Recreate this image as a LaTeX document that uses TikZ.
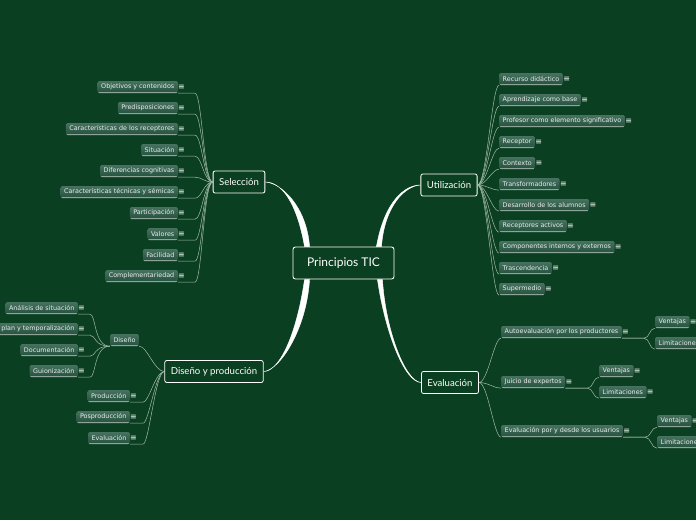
\documentclass[tikz,border=0pt]{standalone}
\usepackage{fontspec}
\setmainfont{DejaVu Sans}
\newfontfamily\titlefont{Lato}
\usetikzlibrary{shapes,positioning}
\definecolor{bgcol}{HTML}{0B3F21}
\definecolor{leaftop}{HTML}{46725F}
\definecolor{leafbot}{HTML}{24503E}
\definecolor{leafline}{HTML}{8CA597}
\definecolor{twigcol}{HTML}{A3BAAA}

\begin{document}
\begin{tikzpicture}[x=1pt, y=-1pt]
    \tikzstyle{root}   = [draw=white, line width=0.9pt, fill=bgcol, rounded corners=2.5pt, text=white, font=\titlefont\fontsize{12}{14}\selectfont, minimum width=101pt, minimum height=32pt]
    \tikzstyle{topic}  = [draw=white, line width=0.8pt, fill=bgcol, rounded corners=2pt, text=white, font=\titlefont\fontsize{9.6}{11}\selectfont, minimum height=22pt, inner xsep=6pt]
    \tikzstyle{leaf}   = [top color=leaftop, bottom color=leafbot, rounded corners=1.5pt, text=white!88!leaftop, font=\fontsize{6.4}{7.5}\selectfont, minimum height=12pt, inner xsep=3.5pt, inner ysep=1pt, path picture={\draw[leafline, line width=1.6pt] (path picture bounding box.south west) -- (path picture bounding box.south east);}]
    \tikzstyle{icon}   = [text=white, font=\fontsize{8}{8}\selectfont, inner sep=0pt]
    \tikzstyle{menu}   = [leaf, label distance=3pt, label={[icon]right:≡}]
    \tikzstyle{twig}   = [draw=twigcol, line width=0.5pt]
    \tikzstyle{branch} = [fill=white, draw=white, line width=0.4pt]

    % Canvas
    \useasboundingbox (0,0) rectangle (696,520);
    \fill[bgcol] (0,0) rectangle (696,520);
    \clip (0,0) rectangle (696,520);

    % Central idea and main topics
    \node [root] (ctr) at (343.5,263) {Principios TIC};
    \node [topic] (sel) at (239,182) {Selección};
    \node [topic] (uti) at (449,185) {Utilización};
    \node [topic] (dyp) at (214,371.5) {Diseño y producción};
    \node [topic] (eva) at (450,382.5) {Evaluación};

    % Selección
    \node [menu, anchor=east] (s1) at (178,87) {Objetivos y contenidos};
    \node [menu, anchor=east] (s2) at (178,108) {Predisposiciones};
    \node [menu, anchor=east] (s3) at (178,129) {Características de los receptores};
    \node [menu, anchor=east] (s4) at (178,150) {Situación};
    \node [menu, anchor=east] (s5) at (178,171) {Diferencias cognitivas};
    \node [menu, anchor=east] (s6) at (178,192) {Características técnicas y sémicas};
    \node [menu, anchor=east] (s7) at (178,213) {Participación};
    \node [menu, anchor=east] (s8) at (178,234) {Valores};
    \node [menu, anchor=east] (s9) at (178,255) {Facilidad};
    \node [menu, anchor=east] (s10) at (178,276) {Complementariedad};

    % Utilización
    \node [menu, anchor=west] (u1) at (499,79) {Recurso didáctico};
    \node [menu, anchor=west] (u2) at (499,100) {Aprendizaje como base};
    \node [menu, anchor=west] (u3) at (499,121) {Profesor como elemento significativo};
    \node [menu, anchor=west] (u4) at (499,142) {Receptor};
    \node [menu, anchor=west] (u5) at (499,163) {Contexto};
    \node [menu, anchor=west] (u6) at (499,184) {Transformadores};
    \node [menu, anchor=west] (u7) at (499,205) {Desarrollo de los alumnos};
    \node [menu, anchor=west] (u8) at (499,226) {Receptores activos};
    \node [menu, anchor=west] (u9) at (499,247) {Componentes internos y externos};
    \node [menu, anchor=west] (u10) at (499,268) {Trascendencia};
    \node [menu, anchor=west] (u11) at (499,289) {Supermedio};

    % Diseño y producción
    \node [leaf] (dis) at (124.5,340) {Diseño};
    \node [menu, anchor=east] (d1) at (78,308) {Análisis de situación};
    \node [menu, anchor=east] (d2) at (78,329) {plan y temporalización};
    \node [menu, anchor=east] (d3) at (78,350) {Documentación};
    \node [menu, anchor=east] (d4) at (78,371) {Guionización};
    \node [menu, anchor=east] (p1) at (130,396) {Producción};
    \node [menu, anchor=east] (p2) at (130,417) {Posproducción};
    \node [menu, anchor=east] (p3) at (130,438) {Evaluación};

    % Evaluación
    \node [menu, anchor=west] (e1) at (501,332) {Autoevaluación por los productores};
    \node [menu, anchor=west] (e2) at (501,382) {Juicio de expertos};
    \node [menu, anchor=west] (e3) at (501,431) {Evaluación por y desde los usuarios};
    \node [menu, anchor=west] (e1v) at (655,322) {Ventajas};
    \node [menu, anchor=west] (e1l) at (655,343) {Limitaciones};
    \node [menu, anchor=west] (e2v) at (599,371) {Ventajas};
    \node [menu, anchor=west] (e2l) at (599,392) {Limitaciones};
    \node [menu, anchor=west] (e3v) at (657,421) {Ventajas};
    \node [menu, anchor=west] (e3l) at (657,442) {Limitaciones};

    % Main branches
    \filldraw [branch] ([xshift=12pt]ctr.north west) .. controls +(-8,-45) and +(16,0) .. (sel.east) .. controls +(16,1) and +(-3,-40) .. ([xshift=17pt]ctr.north west) -- cycle;
    \filldraw [branch] ([xshift=-18pt]ctr.north east) .. controls +(8,-45) and +(-16,0) .. (uti.west) .. controls +(-16,1) and +(3,-40) .. ([xshift=-13pt]ctr.north east) -- cycle;
    \filldraw [branch] ([xshift=12pt]ctr.south west) .. controls +(-8,55) and +(16,0) .. (dyp.east) .. controls +(16,-1) and +(-3,50) .. ([xshift=17pt]ctr.south west) -- cycle;
    \filldraw [branch] ([xshift=-17pt]ctr.south east) .. controls +(8,55) and +(-16,0) .. (eva.west) .. controls +(-16,-1) and +(3,50) .. ([xshift=-12pt]ctr.south east) -- cycle;

    % Connections
    \draw [twig] (sel.west) .. controls +(-9,0) and +(7,0) .. ([xshift=17pt]s1.south east) -- (s1.south east);
    \draw [twig] (sel.west) .. controls +(-9,0) and +(7,0) .. ([xshift=17pt]s2.south east) -- (s2.south east);
    \draw [twig] (sel.west) .. controls +(-9,0) and +(7,0) .. ([xshift=17pt]s3.south east) -- (s3.south east);
    \draw [twig] (sel.west) .. controls +(-9,0) and +(7,0) .. ([xshift=17pt]s4.south east) -- (s4.south east);
    \draw [twig] (sel.west) .. controls +(-9,0) and +(7,0) .. ([xshift=17pt]s5.south east) -- (s5.south east);
    \draw [twig] (sel.west) .. controls +(-9,0) and +(7,0) .. ([xshift=17pt]s6.south east) -- (s6.south east);
    \draw [twig] (sel.west) .. controls +(-9,0) and +(7,0) .. ([xshift=17pt]s7.south east) -- (s7.south east);
    \draw [twig] (sel.west) .. controls +(-9,0) and +(7,0) .. ([xshift=17pt]s8.south east) -- (s8.south east);
    \draw [twig] (sel.west) .. controls +(-9,0) and +(7,0) .. ([xshift=17pt]s9.south east) -- (s9.south east);
    \draw [twig] (sel.west) .. controls +(-9,0) and +(7,0) .. ([xshift=17pt]s10.south east) -- (s10.south east);

    \draw [twig] (uti.east) .. controls +(9,0) and +(-7,0) .. (u1.south west);
    \draw [twig] (uti.east) .. controls +(9,0) and +(-7,0) .. (u2.south west);
    \draw [twig] (uti.east) .. controls +(9,0) and +(-7,0) .. (u3.south west);
    \draw [twig] (uti.east) .. controls +(9,0) and +(-7,0) .. (u4.south west);
    \draw [twig] (uti.east) .. controls +(9,0) and +(-7,0) .. (u5.south west);
    \draw [twig] (uti.east) .. controls +(9,0) and +(-7,0) .. (u6.south west);
    \draw [twig] (uti.east) .. controls +(9,0) and +(-7,0) .. (u7.south west);
    \draw [twig] (uti.east) .. controls +(9,0) and +(-7,0) .. (u8.south west);
    \draw [twig] (uti.east) .. controls +(9,0) and +(-7,0) .. (u9.south west);
    \draw [twig] (uti.east) .. controls +(9,0) and +(-7,0) .. (u10.south west);
    \draw [twig] (uti.east) .. controls +(9,0) and +(-7,0) .. (u11.south west);

    \draw [twig] (dyp.west) .. controls +(-10,0) and +(8,0) .. (dis.south east);
    \draw [twig] (dyp.west) .. controls +(-9,0) and +(6,0) .. ([xshift=13pt]p1.south east) -- (p1.south east);
    \draw [twig] (dyp.west) .. controls +(-9,0) and +(6,0) .. ([xshift=13pt]p2.south east) -- (p2.south east);
    \draw [twig] (dyp.west) .. controls +(-9,0) and +(6,0) .. ([xshift=13pt]p3.south east) -- (p3.south east);
    \draw [twig] (dis.south west) .. controls +(-16,0) and +(6,0) .. ([xshift=12pt]d1.south east) -- (d1.south east);
    \draw [twig] (dis.south west) .. controls +(-16,0) and +(6,0) .. ([xshift=12pt]d2.south east) -- (d2.south east);
    \draw [twig] (dis.south west) .. controls +(-16,0) and +(6,0) .. ([xshift=12pt]d3.south east) -- (d3.south east);
    \draw [twig] (dis.south west) .. controls +(-16,0) and +(6,0) .. ([xshift=12pt]d4.south east) -- (d4.south east);

    \draw [twig] (eva.east) .. controls +(9,0) and +(-7,0) .. (e1.south west);
    \draw [twig] (eva.east) .. controls +(9,0) and +(-7,0) .. (e2.south west);
    \draw [twig] (eva.east) .. controls +(9,0) and +(-7,0) .. (e3.south west);
    \draw [twig] (e1.south east) -- ([xshift=22pt]e1.south east) .. controls +(6,0) and +(-6,0) .. (e1v.south west);
    \draw [twig] (e1.south east) -- ([xshift=22pt]e1.south east) .. controls +(6,0) and +(-6,0) .. (e1l.south west);
    \draw [twig] (e2.south east) -- ([xshift=22pt]e2.south east) .. controls +(6,0) and +(-6,0) .. (e2v.south west);
    \draw [twig] (e2.south east) -- ([xshift=22pt]e2.south east) .. controls +(6,0) and +(-6,0) .. (e2l.south west);
    \draw [twig] (e3.south east) -- ([xshift=22pt]e3.south east) .. controls +(6,0) and +(-6,0) .. (e3v.south west);
    \draw [twig] (e3.south east) -- ([xshift=22pt]e3.south east) .. controls +(6,0) and +(-6,0) .. (e3l.south west);
\end{tikzpicture}
\end{document}
